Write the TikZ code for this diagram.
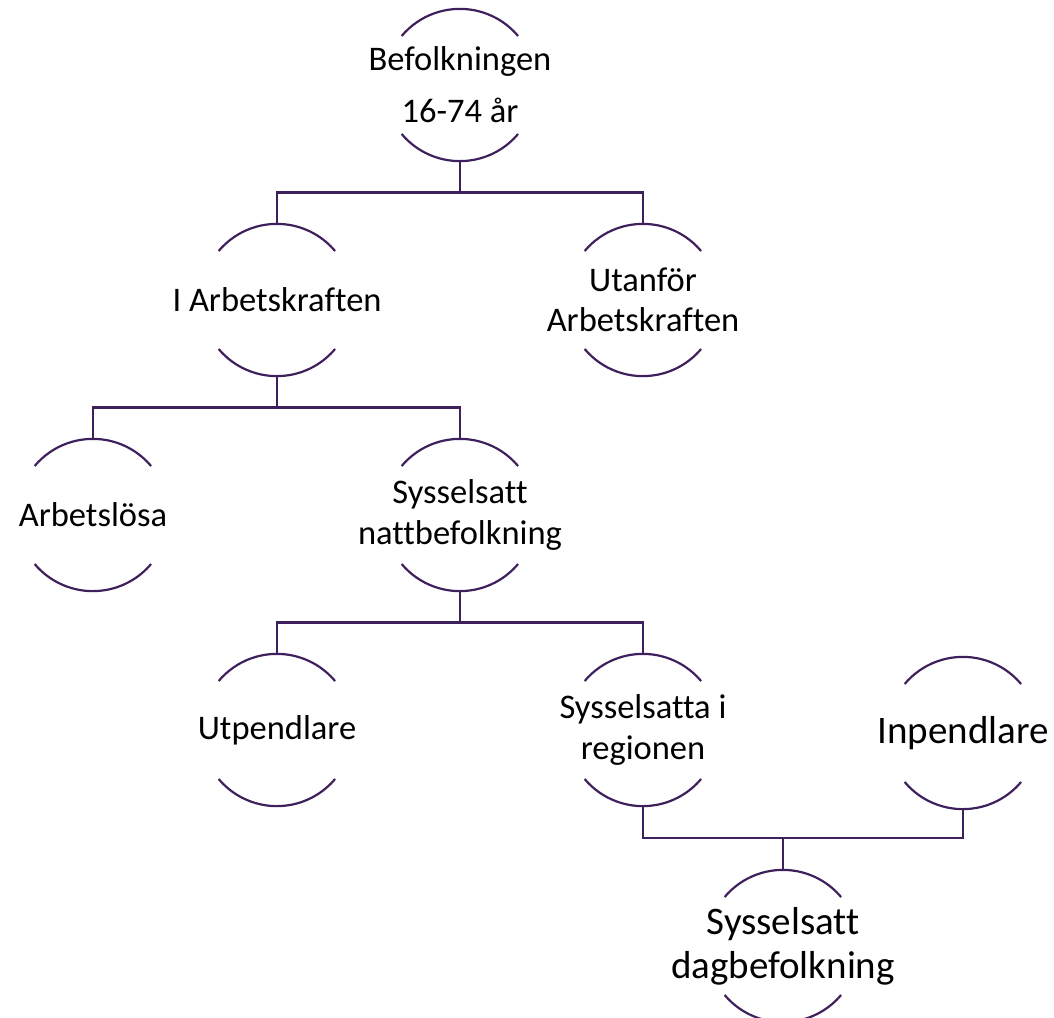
\documentclass[tikz,border=0pt]{standalone}
\usepackage{fontspec}
\setmainfont{Carlito}[Ligatures=NoCommon]
\usetikzlibrary{calc}

\definecolor{linkpurple}{RGB}{62,32,92}

\tikzset{
  unit/.style={circle, minimum size=152pt, inner sep=0pt, draw=none},
  lbl/.style={align=center, text=black, inner sep=0pt,
    font=\fontsize{34.5}{40.5}\selectfont},
  biglbl/.style={lbl, font=\fontsize{39}{44}\selectfont},
  rim/.style={draw=linkpurple, line width=2.2pt},
  link/.style={draw=linkpurple, line width=2.2pt}
}

% top and bottom arcs of an open circle around a named unit
\newcommand{\openring}[1]{%
  \draw[rim] (#1.140) arc[start angle=140, end angle=40, radius=76pt];
  \draw[rim] (#1.220) arc[start angle=220, end angle=320, radius=76pt];
}

\begin{document}
\begin{tikzpicture}[x=1pt, y=-1pt]
\useasboundingbox (0,0) rectangle (1054,1017);

% units
\node[unit] (bef)  at (460,85)  {};
\node[unit] (ark)  at (277,300) {};
\node[unit] (uta)  at (643,300) {};
\node[unit] (alo)  at (93,515)  {};
\node[unit] (natt) at (460,515) {};
\node[unit] (utp)  at (277,730) {};
\node[unit] (reg)  at (643,730) {};
\node[unit] (inp)  at (963,733) {};
\node[unit] (dag)  at (783,946) {};

\foreach \u in {bef,ark,uta,alo,natt,utp,reg,inp,dag} {\openring{\u}}

% labels
\node[lbl, font=\fontsize{34.5}{52}\selectfont] (befT) at (bef) {Befolkningen\\16-74 år};
\node[lbl] (arkT)  at (ark)  {I Arbetskraften};
\node[lbl] (utaT)  at (uta)  {Utanför\\Arbetskraften};
\node[lbl] (aloT)  at (alo)  {Arbetslösa};
\node[lbl] (nattT) at (natt) {Sysselsatt\\nattbefolkning};
\node[lbl] (utpT)  at (utp)  {Utpendlare};
\node[lbl] (regT)  at (reg)  {Sysselsatta i\\regionen};
\node[biglbl] (inpT) at (inp) {Inpendlare};
\node[biglbl] (dagT) at (dag) {Sysselsatt\\dagbefolkning};

% tree connectors
\coordinate (bus1) at ($(bef.south)!0.5!(ark.north)$);
\coordinate (bus2) at ($(ark.south)!0.5!(alo.north)$);
\coordinate (bus3) at ($(natt.south)!0.5!(utp.north)$);
\coordinate (bus4) at ($(reg.south)!0.5!(dag.north)$);

\draw[link] (bef.south) -- (bef.south |- bus1);
\draw[link] (ark.north) |- (bus1) -| (uta.north);

\draw[link] (ark.south) -- (ark.south |- bus2);
\draw[link] (alo.north) |- (bus2) -| (natt.north);

\draw[link] (natt.south) -- (natt.south |- bus3);
\draw[link] (utp.north) |- (bus3) -| (reg.north);

\draw[link] (reg.south) |- (bus4) -| (inp.south);
\draw[link] (dag.north) -- (dag.north |- bus4);
\end{tikzpicture}
\end{document}
